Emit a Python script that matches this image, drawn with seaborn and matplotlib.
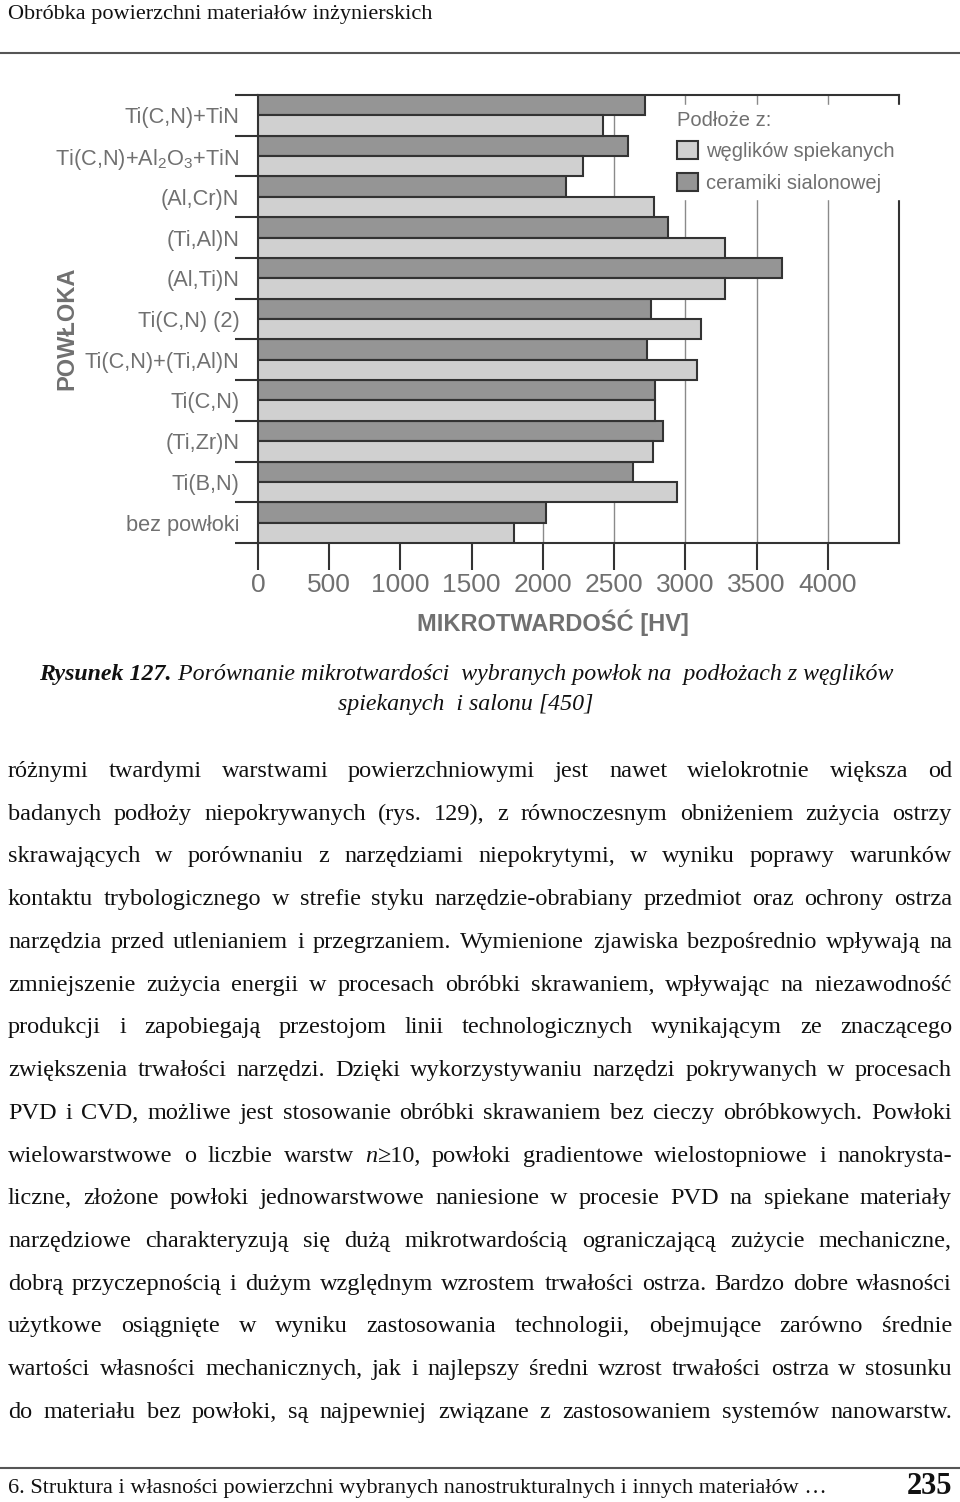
import numpy as np
import pandas as pd
import seaborn as sns
import matplotlib.pyplot as plt
from matplotlib.patches import Patch
from matplotlib.lines import Line2D

W, H = 960, 1502

# --- dane wykresu ---
coatings = ["Ti(C,N)+TiN", "Ti(C,N)+Al2O3+TiN", "(Al,Cr)N", "(Ti,Al)N", "(Al,Ti)N",
            "Ti(C,N) (2)", "Ti(C,N)+(Ti,Al)N", "Ti(C,N)", "(Ti,Zr)N", "Ti(B,N)", "bez powłoki"]
coating_labels = ["Ti(C,N)+TiN", "Ti(C,N)+Al$_2$O$_3$+TiN", "(Al,Cr)N", "(Ti,Al)N",
                  "(Al,Ti)N", "Ti(C,N) (2)", "Ti(C,N)+(Ti,Al)N", "Ti(C,N)", "(Ti,Zr)N",
                  "Ti(B,N)", "bez powłoki"]
hv_sialon = [2720, 2600, 2160, 2880, 3680, 2760, 2730, 2790, 2840, 2630, 2020]
hv_carbide = [2420, 2280, 2780, 3280, 3280, 3110, 3080, 2790, 2770, 2940, 1800]
x_ticks = [0, 500, 1000, 1500, 2000, 2500, 3000, 3500, 4000]

SIALON = "ceramiki sialonowej"
CARBIDE = "węglików spiekanych"

header = "Obróbka powierzchni materiałów inżynierskich"
caption_bold = "Rysunek 127."
caption_1 = " Porównanie mikrotwardości  wybranych powłok na  podłożach z węglików"
caption_2 = "spiekanych  i salonu [450]"
body = [
    "różnymi twardymi warstwami powierzchniowymi jest nawet wielokrotnie większa od",
    "badanych podłoży niepokrywanych (rys. 129), z równoczesnym obniżeniem zużycia ostrzy",
    "skrawających w porównaniu z narzędziami niepokrytymi, w wyniku poprawy warunków",
    "kontaktu trybologicznego w strefie styku narzędzie-obrabiany przedmiot oraz ochrony ostrza",
    "narzędzia przed utlenianiem i przegrzaniem. Wymienione zjawiska bezpośrednio wpływają na",
    "zmniejszenie zużycia energii w procesach obróbki skrawaniem, wpływając na niezawodność",
    "produkcji i zapobiegają przestojom linii technologicznych wynikającym ze znaczącego",
    "zwiększenia trwałości narzędzi. Dzięki wykorzystywaniu narzędzi pokrywanych w procesach",
    "PVD i CVD, możliwe jest stosowanie obróbki skrawaniem bez cieczy obróbkowych. Powłoki",
    "wielowarstwowe o liczbie warstw _n_≥10, powłoki gradientowe wielostopniowe i nanokrysta-",
    "liczne, złożone powłoki jednowarstwowe naniesione w procesie PVD na spiekane materiały",
    "narzędziowe charakteryzują się dużą mikrotwardością ograniczającą zużycie mechaniczne,",
    "dobrą przyczepnością i dużym względnym wzrostem trwałości ostrza. Bardzo dobre własności",
    "użytkowe osiągnięte w wyniku zastosowania technologii, obejmujące zarówno średnie",
    "wartości własności mechanicznych, jak i najlepszy średni wzrost trwałości ostrza w stosunku",
    "do materiału bez powłoki, są najpewniej związane z zastosowaniem systemów nanowarstw.",
]
footer = "6. Struktura i własności powierzchni wybranych nanostrukturalnych i innych materiałów …"
page_no = "235"

df = pd.DataFrame({
    "powloka": coatings * 2,
    "hv": hv_sialon + hv_carbide,
    "podloze": [SIALON] * len(coatings) + [CARBIDE] * len(coatings),
})

DARK, LIGHT, EDGE, GREY = "#959595", "#d0d0d0", "#333333", "#707070"
SANS = ["Liberation Sans", "DejaVu Sans"]
SERIF = ["Liberation Serif", "DejaVu Serif"]

sns.set_style("white")
plt.rcParams["font.family"] = SANS
plt.rcParams["mathtext.fontset"] = "custom"
plt.rcParams["mathtext.rm"] = "Liberation Sans"
plt.rcParams["mathtext.default"] = "rm"

fig = plt.figure(figsize=(W / 100, H / 100), dpi=100)
ax = fig.add_axes([258 / W, 1 - 543 / H, 641 / W, 448 / H])

sns.barplot(data=df, y="powloka", x="hv", hue="podloze", hue_order=[SIALON, CARBIDE],
            palette=[DARK, LIGHT], orient="h", width=1.0, gap=0, errorbar=None,
            edgecolor=EDGE, linewidth=1.5, legend=False, ax=ax, zorder=3)

ax.set_xlim(0, 4500)
ax.set_ylim(len(coatings) - 0.5, -0.5)
ax.set_axisbelow(True)
ax.set_xticks(x_ticks)
ax.set_xticklabels([str(t) for t in x_ticks], fontsize=19, color=GREY)
ax.xaxis.grid(True, color="#8a8a8a", linewidth=1.0, zorder=0)
ax.yaxis.grid(False)

# granice grup jako duże kreski, nazwy powłok na środku grup
ax.set_yticks(np.arange(-0.5, len(coatings)), labels=[""] * (len(coatings) + 1))
ax.set_yticks(np.arange(len(coatings)), labels=coating_labels, minor=True)
ax.tick_params(axis="y", which="major", length=16.5, width=1.5, color=EDGE, direction="out", left=True)
ax.tick_params(axis="y", which="minor", length=0, pad=13.5, labelsize=15.7, labelcolor=GREY)
ax.tick_params(axis="x", length=19.5, width=1.5, color=EDGE, direction="out", bottom=True, pad=2)

for sp in ax.spines.values():
    sp.set_visible(True)
    sp.set_color(EDGE)
    sp.set_linewidth(1.5)

ax.set_xlabel("MIKROTWARDOŚĆ [HV]", fontsize=17, fontweight="bold", color=GREY)
ax.xaxis.label.set_va("center")
ax.xaxis.set_label_coords(0.46, -0.179)
ax.set_ylabel("POWŁOKA", fontsize=17, fontweight="bold", color=GREY)
ax.yaxis.label.set_va("center")
ax.yaxis.set_label_coords(-0.298, 0.48)

handles = [Patch(facecolor=LIGHT, edgecolor=EDGE, linewidth=1.5, label=CARBIDE),
           Patch(facecolor=DARK, edgecolor=EDGE, linewidth=1.5, label=SIALON)]
leg = ax.legend(handles=handles, title="Podłoże z:", loc="upper left",
                bbox_to_anchor=(0.645, 0.978), frameon=True, framealpha=1, facecolor="white",
                edgecolor="white", fancybox=False, fontsize=14.5, title_fontsize=14.5,
                labelcolor=GREY, handlelength=1.0, handleheight=1.0, handletextpad=0.4,
                labelspacing=0.6, borderpad=0.3, borderaxespad=0, alignment="left")
leg.get_title().set_color(GREY)
leg._legend_box.sep = 8
leg.set_zorder(5)

# --- tekst strony ---
renderer = fig.canvas.get_renderer()


def fx(x):
    return x / W


def fy(y):
    return 1 - y / H


def put(x, y, s, **kw):
    t = fig.text(fx(x), fy(y), s, va="baseline", **kw)
    return t, t.get_window_extent(renderer).width


def pieces(word):
    # "_n_" oznacza kursywę
    out = []
    for i, part in enumerate(word.split("_")):
        if part:
            out.append((part, "italic" if i % 2 else "normal"))
    return out


def justify(line, y, x0=8, x1=952, **kw):
    groups = []
    for w in line.split(" "):
        items = []
        for part, style in pieces(w):
            items.append(put(0, y, part, style=style, **kw))
        groups.append(items)
    total = sum(wd for g in groups for _, wd in g)
    gap = (x1 - x0 - total) / (len(groups) - 1)
    x = x0
    for g in groups:
        for t, wd in g:
            t.set_x(fx(x))
            x += wd
        x += gap


BODY_KW = dict(family=SERIF, fontsize=17.5, color="#111111")

put(8, 19, header, family=SERIF, fontsize=16, color="#111111")
fig.add_artist(Line2D([0, 1], [fy(53), fy(53)], color="#555555", linewidth=1.5))

# podpis rysunku wyśrodkowany
CAP_KW = dict(family=SERIF, fontsize=17.2, style="italic", color="#111111")
t1, w1 = put(0, 680, caption_bold, weight="bold", **CAP_KW)
t2, w2 = put(0, 680, caption_1, **CAP_KW)
start = 466 - (w1 + w2) / 2
t1.set_x(fx(start))
t2.set_x(fx(start + w1))
fig.text(fx(466), fy(710), caption_2, ha="center", va="baseline", **CAP_KW)

for i, line in enumerate(body):
    justify(line, 777 + i * 42.73, **BODY_KW)

fig.add_artist(Line2D([0, 1], [fy(1468), fy(1468)], color="#555555", linewidth=1.5))
put(8, 1493, footer, family=SERIF, fontsize=16, color="#111111")
fig.text(fx(952), fy(1494), page_no, family=SERIF, fontsize=22, weight="bold",
         color="#111111", ha="right", va="baseline")

fig.savefig("out.png", dpi=100)
